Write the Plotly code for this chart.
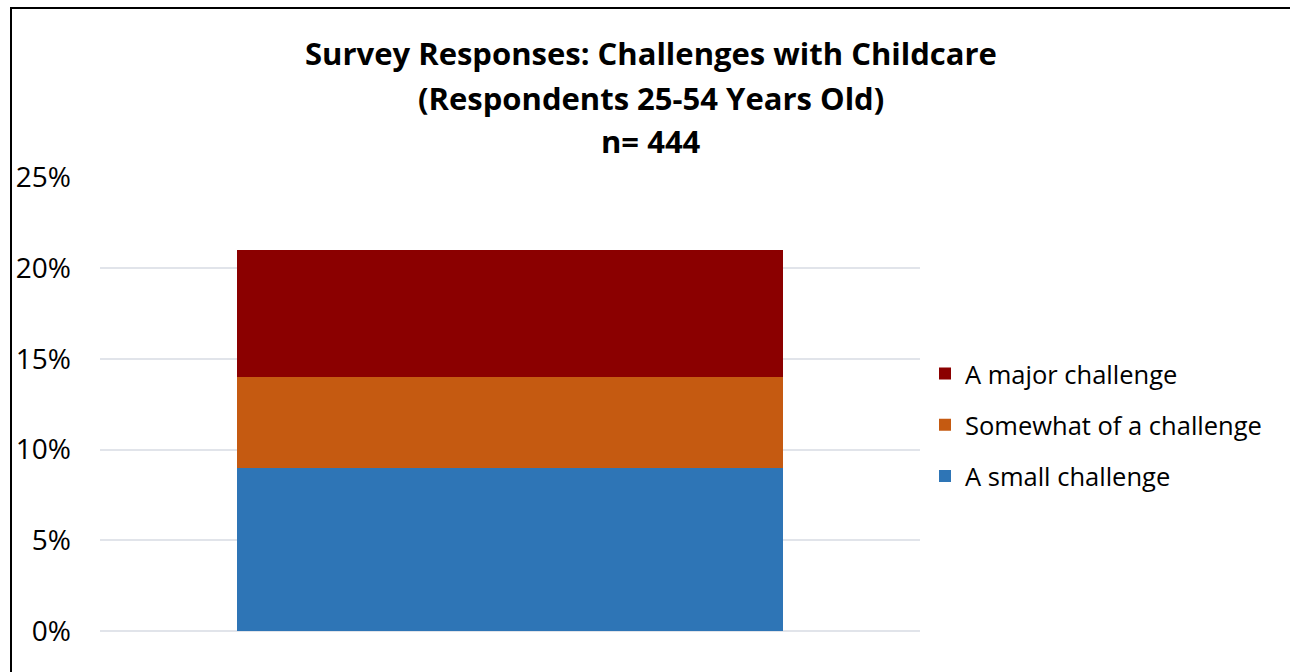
import plotly.graph_objects as go

# Survey data (share of respondents, %)
category = ["Respondents 25-54"]
series_names = ["A small challenge", "Somewhat of a challenge", "A major challenge"]
small_challenge = [9]
somewhat_challenge = [5]
major_challenge = [7]
series_colors = ["#2E75B6", "#C55A11", "#8B0000"]
legend_ranks = [3, 2, 1]
title_lines = [
    "Survey Responses: Challenges with Childcare",
    "(Respondents 25-54 Years Old)",
    "n= 444",
]
y_ticks = [0, 5, 10, 15, 20, 25]
y_tick_labels = ["0%", "5%", "10%", "15%", "20%", "25%"]

FONT = "Open Sans, sans-serif"

fig = go.Figure()
for name, vals, color, rank in zip(series_names,
                                   [small_challenge, somewhat_challenge, major_challenge],
                                   series_colors, legend_ranks):
    fig.add_trace(go.Bar(
        x=category, y=vals, name=name, legendgroup=name, legendrank=rank,
        marker=dict(color=color, line=dict(width=0)),
        width=0.666,
    ))

W, H = 1290, 672
L, R, T, B = 100, 370, 177, 41
pw, ph = W - L - R, H - T - B

def px_x(p):
    return (p - L) / pw

def px_y(p):
    return (H - B - p) / ph

annotations = []
for line, yc in zip(title_lines, [53, 98, 141]):
    annotations.append(dict(
        text=f"<b>{line}</b>", xref="paper", yref="paper",
        x=px_x(651), y=px_y(yc), xanchor="center", yanchor="middle",
        showarrow=False, font=dict(family=FONT, size=31, color="#000000"),
    ))

fig.update_layout(
    width=W, height=H,
    margin=dict(l=L, r=R, t=T, b=B),
    paper_bgcolor="white", plot_bgcolor="white",
    barmode="stack",
    showlegend=True,
    legend=dict(
        x=px_x(925), y=px_y(425), xanchor="left", yanchor="middle",
        traceorder="grouped", tracegroupgap=15,
        font=dict(family=FONT, size=25.5, color="#000000"),
        bgcolor="rgba(0,0,0,0)",
    ),
    annotations=annotations,
    shapes=[dict(
        type="rect", xref="paper", yref="paper",
        x0=px_x(11), x1=px_x(1300), y0=px_y(690), y1=px_y(8),
        line=dict(color="#000000", width=2), fillcolor="rgba(0,0,0,0)",
        layer="above",
    )],
    xaxis=dict(showticklabels=False, showgrid=False, zeroline=False,
               showline=False, range=[-0.5, 0.5]),
    yaxis=dict(range=[0, 25.02], tickvals=y_ticks, ticktext=y_tick_labels,
               showgrid=True, gridcolor="#E1E4EA", gridwidth=1.5,
               zeroline=True, zerolinecolor="#E1E4EA", zerolinewidth=1.5,
               showline=False, ticks="", ticklabelstandoff=28,
               tickfont=dict(family=FONT, size=28, color="#000000")),
)

fig.write_html("out.html")
